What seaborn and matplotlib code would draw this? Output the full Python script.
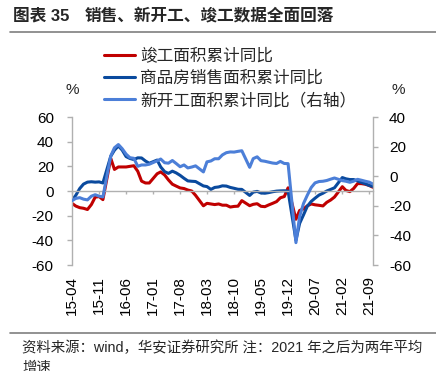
import pandas as pd
import matplotlib.pyplot as plt
import matplotlib.dates as mdates
from matplotlib.lines import Line2D
import seaborn as sns

# monthly cumulative YoY (%), Jan is merged into Feb so there is no January point
start, end = '2015-04-01', '2021-10-01'

completion = [  # 竣工面积累计同比 (left axis)
    -10.0, -12.2, -13.5, -14.0, -15.0, -11.0, -5.0, -4.5, -7.0,
    26.5, 17.5, 19.5, 19.5, 19.5, 20.0, 20.5, 16.0, 8.0, 6.5, 6.5,
    14.0, 15.5, 13.0, 9.0, 5.5, 4.0, 2.5, 2.0, 0.8, 0.0, -3.5,
    -12.0, -10.0, -10.5, -11.0, -10.5, -11.5, -11.5, -13.0, -12.5, -12.3, -7.8,
    -11.9, -10.8, -10.3, -12.4, -12.7, -11.3, -10.0, -8.6, -5.5, -4.5, 2.6,
    -22.9, -15.8, -14.5, -12.0, -10.5, -11.2, -11.6, -12.1, -9.2, -7.3, -4.9,
    3.5, 0.5, -0.5, 2.0, 6.0, 6.0, 5.5, 4.5, 3.0,
]
sales = [  # 商品房销售面积累计同比 (left axis)
    -7.5, -3.5, 2.0, 5.6, 7.2, 7.5, 7.2, 7.4, 6.5,
    28.2, 33.1, 36.5, 33.2, 27.9, 26.4, 25.5, 26.9, 26.8, 24.3, 22.5,
    25.1, 19.5, 15.7, 14.3, 16.1, 14.7, 12.7, 10.3, 8.2, 7.9, 7.7,
    4.1, 3.6, 1.3, 2.9, 3.3, 4.2, 4.0, 2.9, 2.2, 1.4, 1.3,
    -3.6, -0.9, -0.3, -1.6, -1.8, -1.3, -0.6, -0.1, 0.1, 0.2, -0.1,
    -39.9, -26.3, -19.3, -12.3, -8.4, -5.8, -3.3, -1.8, 0.0, 1.3, 2.6,
    10.9, 9.9, 9.3, 9.3, 8.2, 7.0, 5.9, 4.5, 3.7,
]
new_starts = [  # 新开工面积累计同比 (right axis)
    -16.5, -15.0, -14.5, -15.5, -16.0, -13.5, -12.5, -13.5, -14.0,
    13.7, 19.2, 21.4, 18.6, 14.9, 12.5, 12.1, 6.7, 7.6, 7.6, 8.1,
    10.4, 11.6, 9.1, 8.8, 10.6, 8.6, 6.4, 7.6, 5.6, 6.2, 7.0,
    2.9, 9.7, 10.3, 11.8, 11.8, 14.4, 15.9, 16.4, 16.3, 16.8, 17.2,
    6.0, 11.9, 13.1, 10.5, 10.1, 9.5, 8.9, 8.6, 10.0, 8.6, 8.5,
    -44.9, -27.2, -18.4, -12.8, -7.6, -4.5, -3.6, -3.4, -2.9, -2.0, -1.2,
    -3.0, -3.4, -4.1, -3.4, -2.1, -2.7, -3.4, -4.0, -5.3,
]
labels = ['竣工面积累计同比', '商品房销售面积累计同比', '新开工面积累计同比（右轴）']
colors = ['#C00000', '#0A4A9E', '#4C7FD8']

months = pd.date_range(start, end, freq='MS')
months = months[months.month != 1]
df = pd.DataFrame({'date': months, 'completion': completion,
                   'sales': sales, 'new_starts': new_starts})

sns.set_theme(style='white')
plt.rcParams['font.family'] = ['Liberation Sans', 'Noto Sans CJK SC']
plt.rcParams['axes.unicode_minus'] = False

gray = '#B0B0B0'
fig = plt.figure(figsize=(4.36, 3.71), dpi=100)
ax = fig.add_axes([0.1651, 0.2857, 0.6904, 0.3989])
ax2 = ax.twinx()

sns.lineplot(data=df, x='date', y='completion', ax=ax, color=colors[0], lw=2.2, legend=False)
sns.lineplot(data=df, x='date', y='sales', ax=ax, color=colors[1], lw=2.2, legend=False)
sns.lineplot(data=df, x='date', y='new_starts', ax=ax2, color=colors[2], lw=2.2, legend=False)

ax.set_ylim(-60, 60)
ax.set_yticks(range(-60, 61, 20))
ax2.set_ylim(-60, 40)
ax2.set_yticks(range(-60, 41, 20))
ax.set_xlim(pd.Timestamp(start), pd.Timestamp(end))
ax.set_xticks(pd.date_range('2015-04-01', '2021-09-01', freq='7MS'))
ax.xaxis.set_major_formatter(mdates.DateFormatter('%y-%m'))
for a in (ax, ax2):
    a.set_xlabel('')
    a.set_ylabel('')
    for s in a.spines.values():
        s.set_color(gray)
        s.set_linewidth(1.0)
ax.spines['top'].set_visible(False)
ax.spines['right'].set_visible(False)
ax.spines['bottom'].set_position(('data', 0))
ax2.spines['top'].set_visible(False)
ax2.spines['bottom'].set_visible(False)
ax2.spines['left'].set_visible(False)

ax.tick_params(axis='y', left=True, direction='out', length=3.6, width=1, color=gray,
               pad=9.5, labelsize=11, labelcolor='black')
ax2.tick_params(axis='y', right=True, direction='out', length=3.6, width=1, color=gray,
                pad=8, labelsize=11, labelcolor='black')
ax.tick_params(axis='x', bottom=True, direction='out', length=2.5, width=1, color=gray,
               pad=59, labelsize=11, labelrotation=90, labelcolor='black')

handles = [Line2D([], [], color=c, lw=2.2) for c in colors]
fig.legend(handles, labels, loc='upper left', bbox_to_anchor=(104 / 436, 1 - 48 / 371),
           frameon=False, fontsize=12, handlelength=1.85, handletextpad=0.3,
           borderpad=0, borderaxespad=0, labelspacing=0.38)

fig.text(72 / 436, 1 - 90 / 371, '%', ha='center', va='center', fontsize=11)
fig.text(398 / 436, 1 - 90 / 371, '%', ha='center', va='center', fontsize=11)

fig.text(13 / 436, 1 - 16 / 371, '图表 35', ha='left', va='center', fontsize=12, fontweight='bold')
fig.text(85 / 436, 1 - 16 / 371, '销售、新开工、竣工数据全面回落', ha='left', va='center',
         fontsize=12, fontweight='bold')
fig.add_artist(Line2D([10 / 436, 1], [1 - 32 / 371] * 2, transform=fig.transFigure,
                      color='#7F7F7F', lw=1.2))
fig.add_artist(Line2D([10 / 436, 1], [1 - 333 / 371] * 2, transform=fig.transFigure,
                      color='#7F7F7F', lw=1.2))
fig.text(22 / 436, 1 - 348 / 371, '资料来源：wind，华安证券研究所 注：2021 年之后为两年平均',
         ha='left', va='center', fontsize=10.4)
fig.text(22 / 436, 1 - 368 / 371, '增速', ha='left', va='center', fontsize=10.4)

fig.savefig('out.png', dpi=100)
